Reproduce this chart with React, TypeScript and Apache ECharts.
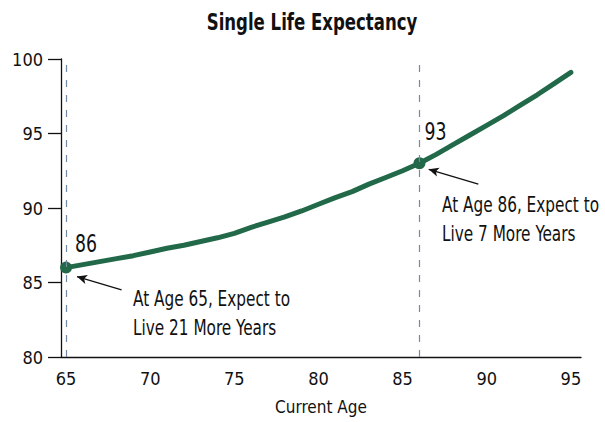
import React, { useEffect, useRef } from "react";
import * as echarts from "echarts";

const ages = [65,66,67,68,69,70,71,72,73,74,75,76,77,78,79,80,81,82,83,84,85,86,87,88,89,90,91,92,93,94,95];
const expectancy = [86.0,86.2,86.4,86.6,86.8,87.05,87.3,87.5,87.75,88.0,88.3,88.7,89.05,89.4,89.8,90.25,90.7,91.1,91.6,92.05,92.5,93.0,93.6,94.25,94.9,95.55,96.2,96.9,97.6,98.35,99.1];
const xTicks = [65,70,75,80,85,90,95];
const highlightAges = [65, 86];
const highlightValues = [86, 93];
const annotationLines = [
  ["At Age 65, Expect to", "Live 21 More Years"],
  ["At Age 86, Expect to", "Live 7 More Years"],
];
// arrows: [tailAge, tailValue, headAge, headValue]
const arrows = [
  [68.3, 84.5, 65.65, 85.4],
  [89.5, 91.6, 86.55, 92.6],
];

const FONT = "'Liberation Sans Narrow', 'DejaVu Sans Condensed', sans-serif";
const GREEN = "#22694a";
const INK = "#111";

export default function App() {
  const ref = useRef<HTMLDivElement>(null);
  useEffect(() => {
    if (!ref.current) return;
    const chart = echarts.init(ref.current, undefined, { renderer: "svg" });
    chart.setOption({
      animation: false,
      grid: { left: 61, right: 24, top: 59, bottom: 65 },
      xAxis: {
        type: "value",
        min: 64.7,
        max: 95.6,
        name: "Current Age",
        nameLocation: "middle",
        nameGap: 41,
        nameTextStyle: { fontFamily: FONT, fontSize: 17, color: INK },
        axisLine: { show: true, lineStyle: { color: INK, width: 1.3 } },
        axisTick: { show: false },
        splitLine: { show: false },
        axisLabel: { customValues: xTicks, fontFamily: FONT, fontSize: 18, color: INK, margin: 12 },
      },
      yAxis: {
        type: "value",
        min: 80,
        max: 100,
        interval: 5,
        axisLine: { show: true, lineStyle: { color: INK, width: 1.3 } },
        axisTick: { show: true, length: 13, lineStyle: { color: INK, width: 1.3 } },
        splitLine: { show: false },
        axisLabel: { fontFamily: FONT, fontSize: 18, color: INK, margin: 18 },
      },
      series: [
        {
          type: "line",
          data: ages.map((a, i) => [a, expectancy[i]]),
          showSymbol: false,
          lineStyle: { color: GREEN, width: 5, cap: "round", join: "round" },
          itemStyle: { color: GREEN },
          silent: true,
          z: 3,
        },
        {
          type: "scatter",
          data: highlightAges.map((a, i) => [a, highlightValues[i]]),
          symbolSize: 12,
          itemStyle: { color: GREEN, opacity: 1 },
          silent: true,
          z: 4,
          markLine: {
            silent: true,
            symbol: "none",
            label: { show: false },
            lineStyle: { color: "#7489a3", width: 1.2, type: [7, 8], opacity: 1 },
            data: highlightAges.map((a) => ({ xAxis: a })),
          },
        },
        {
          type: "line",
          data: [],
          silent: true,
          markLine: {
            silent: true,
            label: { show: false },
            symbolSize: [7, 10],
            lineStyle: { color: INK, width: 1.3, type: "solid", opacity: 1 },
            data: arrows.map((a) => [
              { coord: [a[0], a[1]], symbol: "none" },
              { coord: [a[2], a[3]], symbol: "arrow" },
            ]),
          },
        },
      ],
    });

    const graphics: any[] = [];
    graphics.push({
      type: "text",
      x: 312,
      y: 22,
      scaleX: 0.8,
      style: { text: "Single Life Expectancy", font: `bold 23px ${FONT}`, fill: INK, textAlign: "center", textVerticalAlign: "middle" },
    });
    const labelOffsets = [[9, -24], [5, -32]];
    highlightAges.forEach((a, i) => {
      const p = chart.convertToPixel({ gridIndex: 0 }, [a, highlightValues[i]]) as number[];
      graphics.push({
        type: "text",
        x: p[0] + labelOffsets[i][0],
        y: p[1] + labelOffsets[i][1],
        scaleX: 0.8,
        style: { text: String(highlightValues[i]), font: `24px ${FONT}`, fill: INK, textAlign: "left", textVerticalAlign: "middle" },
      });
    });
    const annoPos = [[133, 299], [442, 205]];
    annotationLines.forEach((lines, i) => {
      lines.forEach((t, j) => {
        graphics.push({
          type: "text",
          x: annoPos[i][0],
          y: annoPos[i][1] + j * 29,
          scaleX: 0.81,
          style: { text: t, font: `21px ${FONT}`, fill: INK, textAlign: "left", textVerticalAlign: "middle" },
        });
      });
    });
    chart.setOption({ graphic: graphics });
    return () => chart.dispose();
  }, []);
  return <div ref={ref} style={{ position: "absolute", left: 0, top: 0, width: 605, height: 422 }} />;
}
